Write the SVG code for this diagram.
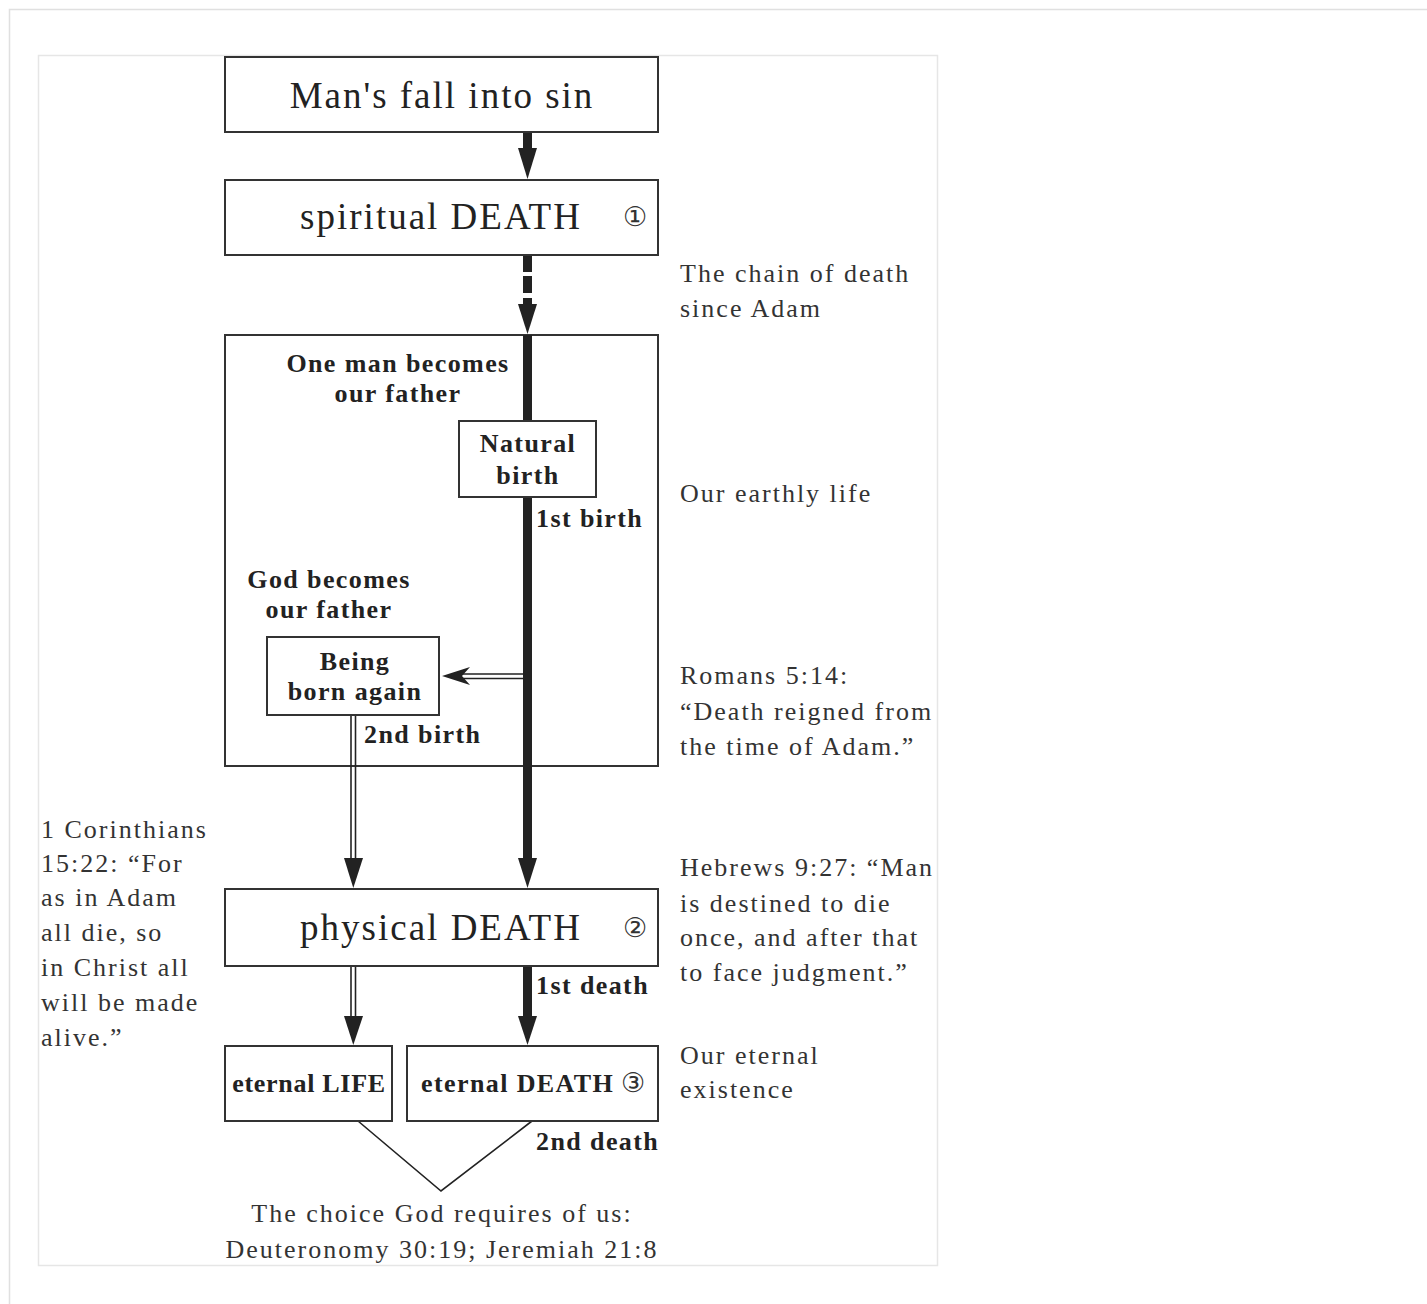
<svg xmlns="http://www.w3.org/2000/svg" width="1427" height="1304" viewBox="0 0 1427 1304">
<style>
.box{fill:#fff;stroke:#333;stroke-width:2}
.big{font-family:"Liberation Serif",serif;font-size:37px;letter-spacing:2px;fill:#222}
.bl{font-family:"Liberation Serif",serif;font-weight:bold;font-size:26px;letter-spacing:1.4px;fill:#222}
.nt{font-family:"Liberation Serif",serif;font-size:26px;letter-spacing:2px;fill:#333}
.circ{font-family:"DejaVu Sans",sans-serif;font-size:27px;fill:#333}
.thick{stroke:#222;stroke-width:9;fill:none}
.thin{stroke:#222;stroke-width:1.6;fill:none}
.head{fill:#222}
</style>
<rect x="9.5" y="9.5" width="1440" height="1320" fill="#fff" stroke="#e0e0e0" stroke-width="1.5"/>
<rect x="38.5" y="55.5" width="899" height="1210" fill="#fff" stroke="#e6e6e6" stroke-width="1.5"/>

<g id="earthly-frame"><rect class="box" x="225" y="335" width="433" height="431"/></g>

<g id="connectors">
  <line class="thick" x1="527.5" y1="132" x2="527.5" y2="152"/>
  <polygon class="head" points="518,148 537,148 527.5,179"/>
  <line class="thick" x1="527.5" y1="256" x2="527.5" y2="272"/>
  <line class="thick" x1="527.5" y1="276" x2="527.5" y2="293"/>
  <line class="thick" x1="527.5" y1="298" x2="527.5" y2="308"/>
  <polygon class="head" points="518,304 537,304 527.5,334"/>
  <line class="thick" x1="527.5" y1="335" x2="527.5" y2="421"/>
  <line class="thick" x1="527.5" y1="497" x2="527.5" y2="865"/>
  <polygon class="head" points="518,858 537,858 527.5,888"/>
  <line class="thin" x1="523" y1="674" x2="460" y2="674"/>
  <line class="thin" x1="523" y1="678.5" x2="460" y2="678.5"/>
  <polygon class="head" points="442,676 470,667 462,676 470,685"/>
  <line class="thin" x1="351" y1="715" x2="351" y2="865"/>
  <line class="thin" x1="355.5" y1="715" x2="355.5" y2="865"/>
  <polygon class="head" points="344,858 363,858 353.3,888"/>
  <line class="thin" x1="351" y1="966" x2="351" y2="1022"/>
  <line class="thin" x1="355.5" y1="966" x2="355.5" y2="1022"/>
  <polygon class="head" points="344,1016 363,1016 353.3,1045"/>
  <line class="thick" x1="527.5" y1="966" x2="527.5" y2="1020"/>
  <polygon class="head" points="518,1016 537,1016 527.5,1045"/>
  <polyline class="thin" points="358,1121 441,1191 532,1121" stroke="#333" stroke-width="1.3"/>
</g>

<g id="fall"><rect class="box" x="225" y="57" width="433" height="75"/>
<text class="big" x="442" y="108" text-anchor="middle">Man's fall into sin</text></g>

<g id="spiritual-death"><rect class="box" x="225" y="180" width="433" height="75"/>
<text class="big" x="441" y="229" text-anchor="middle">spiritual DEATH</text>
<text class="circ" x="635" y="226" text-anchor="middle">①</text></g>

<g id="one-man"><text class="bl" x="398" y="372" text-anchor="middle">One man becomes</text>
<text class="bl" x="398" y="402" text-anchor="middle">our father</text></g>

<g id="natural-birth"><rect class="box" x="459" y="421" width="137" height="76"/>
<text class="bl" x="528" y="452" text-anchor="middle">Natural</text>
<text class="bl" x="528" y="484" text-anchor="middle">birth</text></g>

<g id="first-birth"><text class="bl" x="536" y="527">1st birth</text></g>

<g id="god-father"><text class="bl" x="329" y="588" text-anchor="middle">God becomes</text>
<text class="bl" x="329" y="618" text-anchor="middle">our father</text></g>

<g id="born-again"><rect class="box" x="267" y="637" width="172" height="78"/>
<text class="bl" x="355" y="670" text-anchor="middle">Being</text>
<text class="bl" x="355" y="700" text-anchor="middle">born again</text></g>

<g id="second-birth"><text class="bl" x="364" y="743">2nd birth</text></g>

<g id="physical-death"><rect class="box" x="225" y="889" width="433" height="77"/>
<text class="big" x="441" y="940" text-anchor="middle">physical DEATH</text>
<text class="circ" x="635" y="937" text-anchor="middle">②</text></g>

<g id="first-death"><text class="bl" x="536" y="994">1st death</text></g>

<g id="eternal-life"><rect class="box" x="225" y="1046" width="167" height="75"/>
<text class="bl" x="309" y="1092" text-anchor="middle" style="letter-spacing:0.7px">eternal LIFE</text></g>

<g id="eternal-death"><rect class="box" x="407" y="1046" width="251" height="75"/>
<text class="bl" x="421" y="1092">eternal DEATH</text>
<text class="circ" x="633" y="1092" text-anchor="middle">③</text></g>

<g id="second-death"><text class="bl" x="536" y="1150">2nd death</text></g>

<g id="choice"><text class="nt" x="442" y="1222" text-anchor="middle">The choice God requires of us:</text>
<text class="nt" x="442" y="1258" text-anchor="middle">Deuteronomy 30:19; Jeremiah 21:8</text></g>

<g id="right-notes">
<text class="nt" x="680" y="282">The chain of death</text>
<text class="nt" x="680" y="317">since Adam</text>
<text class="nt" x="680" y="502">Our earthly life</text>
<text class="nt" x="680" y="684">Romans 5:14:</text>
<text class="nt" x="680" y="720">“Death reigned from</text>
<text class="nt" x="680" y="755">the time of Adam.”</text>
<text class="nt" x="680" y="876">Hebrews 9:27: “Man</text>
<text class="nt" x="680" y="912">is destined to die</text>
<text class="nt" x="680" y="946">once, and after that</text>
<text class="nt" x="680" y="981">to face judgment.”</text>
<text class="nt" x="680" y="1064">Our eternal</text>
<text class="nt" x="680" y="1098">existence</text>
</g>

<g id="left-note">
<text class="nt" x="41" y="838">1 Corinthians</text>
<text class="nt" x="41" y="872">15:22: “For</text>
<text class="nt" x="41" y="906">as in Adam</text>
<text class="nt" x="41" y="941">all die, so</text>
<text class="nt" x="41" y="976">in Christ all</text>
<text class="nt" x="41" y="1011">will be made</text>
<text class="nt" x="41" y="1046">alive.”</text>
</g>
</svg>
